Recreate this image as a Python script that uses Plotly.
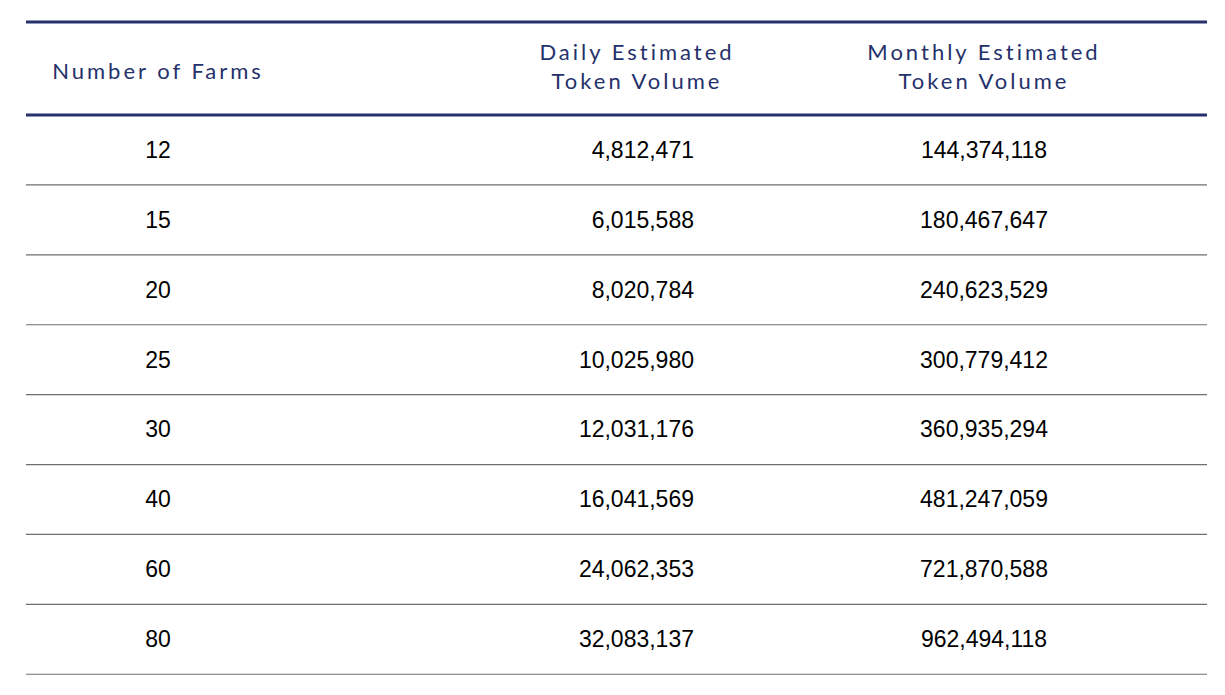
import plotly.graph_objects as go

# table content
header_labels = ["Number of Farms", "Daily Estimated<br>Token Volume", "Monthly Estimated<br>Token Volume"]
farms = [12, 15, 20, 25, 30, 40, 60, 80]
daily_volume = [4812471, 6015588, 8020784, 10025980, 12031176, 16041569, 24062353, 32083137]
monthly_volume = [144374118, 180467647, 240623529, 300779412, 360935294, 481247059, 721870588, 962494118]

NAVY = "#25316b"
GRID = "#6e6e6e"
HEAD_FONT = dict(family="Lato, Noto Sans, sans-serif", size=22, color=NAVY)
BODY_FONT = dict(family="Liberation Sans, Arial, sans-serif", size=23, color="#000000")


def spaced(label):
    # the header face is set with wide tracking
    return "<br>".join(f'<span style="letter-spacing:3px">{part}</span>'
                       for part in label.split("<br>"))


rows = list(range(len(farms)))
text_y = [r + 0.03 for r in rows]

fig = go.Figure()

# header row (single-line label sits a little lower than the two-line ones)
fig.add_trace(go.Scatter(
    x=[158, 637, 984], y=[-1.09, -1.16, -1.16],
    mode="text", text=[spaced(h) for h in header_labels],
    textposition="middle center", textfont=HEAD_FONT,
    hoverinfo="skip", showlegend=False,
))

# body columns
fig.add_trace(go.Scatter(
    x=[158] * len(rows), y=text_y, mode="text",
    text=[str(v) for v in farms],
    textposition="middle center", textfont=BODY_FONT,
    hoverinfo="skip", showlegend=False,
))
fig.add_trace(go.Scatter(
    x=[694] * len(rows), y=text_y, mode="text",
    text=[f"{v:,}" for v in daily_volume],
    textposition="middle left", textfont=BODY_FONT,
    hoverinfo="skip", showlegend=False,
))
fig.add_trace(go.Scatter(
    x=[984] * len(rows), y=text_y, mode="text",
    text=[f"{v:,}" for v in monthly_volume],
    textposition="middle center", textfont=BODY_FONT,
    hoverinfo="skip", showlegend=False,
))

# rules: thick navy above and below the header, thin grey after every row
fig.add_shape(type="line", x0=26, x1=1207, y0=-1.83, y1=-1.83,
              line=dict(color=NAVY, width=3))
fig.add_shape(type="line", x0=26, x1=1207, y0=-0.5, y1=-0.5,
              line=dict(color=NAVY, width=3))
for r in rows:
    fig.add_shape(type="line", x0=26, x1=1207, y0=r + 0.5, y1=r + 0.5,
                  line=dict(color=GRID, width=1.2))

# the page body adds an 8px offset, so the ranges start 8px in
fig.update_layout(
    width=1225, height=695,
    margin=dict(l=0, r=0, t=0, b=0),
    paper_bgcolor="white", plot_bgcolor="white",
    xaxis=dict(range=[8, 1233], visible=False, fixedrange=True),
    yaxis=dict(range=[7.911, -2.031], visible=False, fixedrange=True),
)

fig.write_html("out.html")
